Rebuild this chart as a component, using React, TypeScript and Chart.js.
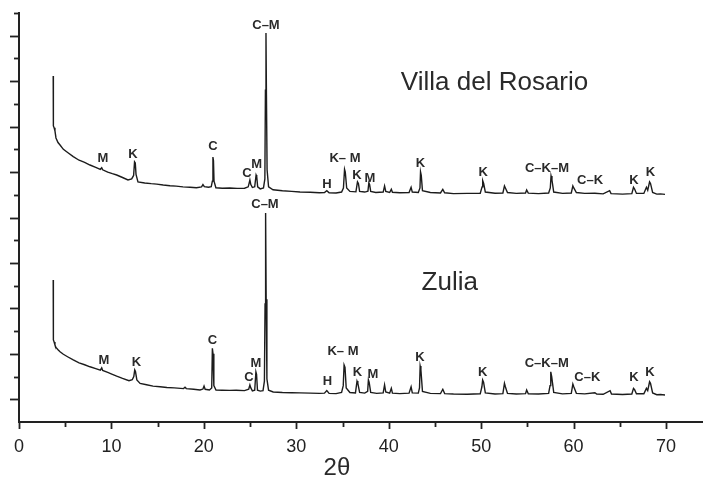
import React, { useEffect, useRef } from 'react';
import { Chart, registerables } from 'chart.js';

Chart.register(...registerables);

const FONT = '"Liberation Sans", Arial, Helvetica, sans-serif';

// 2θ (degrees), intensity (arbitrary units)
const villaPoints: [number, number][] = [
  [3.70, 1423], [3.72, 1203], [3.80, 1195], [3.89, 1181], [4.00, 1150], [4.22, 1130], [4.44, 1119],
  [4.80, 1100], [5.30, 1085], [5.87, 1068], [6.50, 1052], [7.10, 1043], [7.68, 1031], [8.30, 1021],
  [8.80, 1012], [8.95, 1019], [9.05, 1010], [9.60, 1000], [10.10, 993], [10.57, 987], [11.20, 976],
  [11.79, 965], [12.19, 970], [12.40, 985], [12.50, 1045], [12.58, 1040], [12.66, 990], [12.87, 957],
  [13.60, 952], [14.30, 949], [14.90, 947], [15.60, 943], [16.34, 940], [17.00, 938], [17.74, 935],
  [18.50, 933], [19.20, 931], [19.75, 935], [19.90, 945], [20.05, 936], [20.50, 933], [20.80, 936],
  [20.92, 960], [20.98, 1066], [21.04, 1050], [21.10, 960], [21.30, 931], [22.00, 929], [22.80, 930],
  [23.60, 928], [24.40, 929], [24.80, 935], [24.98, 965], [25.08, 945], [25.25, 932], [25.50, 935],
  [25.65, 987], [25.72, 980], [25.82, 935], [26.10, 926], [26.45, 930], [26.60, 970], [26.66, 1360],
  [26.72, 1612], [26.77, 1340], [26.84, 1010], [27.00, 935], [27.48, 922], [28.50, 918], [29.50, 915],
  [30.40, 912], [31.50, 911], [32.50, 909], [33.05, 910], [33.30, 918], [33.55, 909], [34.30, 908],
  [34.90, 912], [35.10, 930], [35.22, 1012], [35.30, 1000], [35.45, 930], [35.80, 915], [36.45, 913],
  [36.62, 957], [36.72, 950], [36.85, 915], [37.40, 912], [37.75, 916], [37.85, 953], [37.93, 945],
  [38.05, 915], [38.60, 910], [39.40, 912], [39.55, 939], [39.68, 915], [40.10, 910], [40.28, 924],
  [40.40, 911], [41.20, 909], [42.20, 910], [42.42, 933], [42.55, 912], [43.20, 910], [43.38, 930],
  [43.44, 1001], [43.52, 985], [43.65, 918], [44.50, 910], [45.60, 908], [45.85, 924], [46.05, 909],
  [47.00, 905], [48.50, 906], [49.90, 907], [50.10, 935], [50.17, 962], [50.27, 950], [50.45, 912],
  [51.50, 907], [52.35, 908], [52.52, 939], [52.62, 930], [52.85, 910], [53.80, 906], [54.80, 908],
  [54.92, 921], [55.10, 907], [56.20, 905], [57.30, 908], [57.48, 930], [57.56, 983], [57.66, 965],
  [57.85, 912], [58.80, 906], [59.75, 908], [59.92, 939], [60.02, 930], [60.30, 910], [61.20, 906],
  [62.30, 907], [63.20, 904], [63.90, 918], [64.05, 905], [65.30, 903], [66.30, 905], [66.48, 933],
  [66.60, 925], [66.80, 906], [67.60, 906], [67.88, 933], [68.02, 920], [68.22, 957], [68.32, 950],
  [68.55, 910], [69.00, 903], [69.40, 904], [69.89, 902],
];

const zuliaPoints: [number, number][] = [
  [3.70, 525], [3.72, 261], [3.80, 252], [3.89, 239], [4.00, 228], [4.22, 218], [4.44, 209],
  [4.80, 198], [5.30, 186], [5.87, 173], [6.50, 160], [7.10, 152], [7.68, 143], [8.30, 135],
  [8.80, 128], [8.95, 138], [9.05, 127], [9.60, 118], [10.10, 110], [10.57, 102], [11.20, 92],
  [11.90, 82], [12.25, 86], [12.42, 100], [12.52, 129], [12.60, 122], [12.75, 85], [13.10, 70],
  [13.80, 64], [14.50, 58], [15.26, 55], [16.00, 52], [16.80, 50], [17.80, 47], [17.96, 53],
  [18.10, 47], [18.90, 44], [19.58, 41], [19.90, 45], [20.02, 58], [20.14, 44], [20.60, 41],
  [20.85, 50], [20.92, 224], [20.99, 200], [21.08, 60], [21.31, 41], [22.00, 40], [22.80, 39],
  [23.50, 40], [24.40, 38], [24.85, 44], [24.98, 63], [25.08, 50], [25.25, 37], [25.50, 40],
  [25.63, 121], [25.70, 110], [25.80, 40], [26.10, 36], [26.40, 38], [26.55, 80], [26.62, 420],
  [26.68, 820], [26.74, 440], [26.82, 90], [27.00, 40], [27.50, 32], [28.50, 30], [29.50, 29],
  [30.40, 28], [31.50, 27], [32.50, 26], [33.05, 27], [33.30, 38], [33.55, 26], [34.30, 25],
  [34.90, 30], [35.08, 60], [35.17, 151], [35.27, 140], [35.40, 50], [35.80, 30], [36.40, 28],
  [36.57, 80], [36.66, 70], [36.85, 30], [37.40, 27], [37.72, 35], [37.80, 85], [37.88, 75],
  [38.05, 30], [38.70, 26], [39.40, 28], [39.55, 63], [39.68, 32], [40.10, 27], [40.28, 48],
  [40.40, 27], [41.20, 25], [42.20, 27], [42.42, 55], [42.55, 28], [43.20, 27], [43.33, 50],
  [43.40, 146], [43.48, 130], [43.65, 35], [44.50, 26], [45.60, 25], [45.85, 44], [46.05, 25],
  [47.00, 23], [48.50, 22], [49.90, 24], [50.08, 55], [50.16, 85], [50.26, 75], [50.45, 28],
  [51.50, 23], [52.35, 25], [52.52, 70], [52.62, 55], [52.85, 26], [53.80, 23], [54.80, 25],
  [54.92, 41], [55.10, 24], [56.20, 23], [57.30, 26], [57.45, 60], [57.53, 121], [57.63, 100],
  [57.85, 30], [58.80, 24], [59.75, 26], [59.92, 67], [60.02, 55], [60.30, 26], [61.20, 24],
  [62.30, 29], [62.50, 23], [63.20, 22], [63.95, 38], [64.10, 23], [65.30, 21], [66.30, 23],
  [66.48, 48], [66.60, 42], [66.80, 24], [67.60, 24], [67.88, 48], [68.02, 38], [68.22, 77],
  [68.32, 70], [68.55, 28], [69.00, 20], [69.40, 21], [69.89, 19],
];

// Peak labels: text, 2θ, intensity
const villaLabels: [string, number, number][] = [
  ['M', 9.09, 1062], ['K', 12.33, 1079], ['C', 20.99, 1115], ['C', 24.67, 996], ['M', 25.7, 1035],
  ['C–M', 26.72, 1647], ['H', 33.32, 947], ['K– M', 35.27, 1062], ['K', 36.57, 983], ['M', 37.97, 974],
  ['K', 43.44, 1040], ['K', 50.23, 1000], ['C–K–M', 57.12, 1018], ['C–K', 61.78, 965],
  ['K', 66.54, 961], ['K', 68.32, 1000],
];
const zuliaLabels: [string, number, number][] = [
  ['M', 9.2, 173], ['K', 12.71, 164], ['C', 20.93, 261], ['C', 24.88, 98], ['M', 25.64, 160],
  ['C–M', 26.61, 859], ['H', 33.38, 80], ['K– M', 35.05, 212], ['K', 36.62, 120], ['M', 38.3, 111],
  ['K', 43.38, 186], ['K', 50.17, 120], ['C–K–M', 57.09, 160], ['C–K', 61.48, 98],
  ['K', 66.54, 94], ['K', 68.27, 120],
];

const seriesNames = ['Villa del Rosario', 'Zulia'];
const seriesNamePos: [number, number][] = [[51.45, 1392], [46.6, 512]];

const xMajorTicks = [0, 10, 20, 30, 40, 50, 60, 70];
const xMinorTicks = [5, 15, 25, 35, 45, 55, 65];
const yTicks = [0, 100, 200, 300, 400, 500, 600, 700, 800, 900, 1000, 1100, 1200, 1300, 1400, 1500, 1600, 1700];
const xTitle = '2θ';
const xTitleAt = 34.4;

const decor = {
  id: 'decor',
  afterDraw(chart: any) {
    const { ctx, scales } = chart;
    const x = scales.x;
    const y = scales.y;
    ctx.save();
    ctx.strokeStyle = '#222';
    ctx.lineWidth = 1.8;
    const left = chart.chartArea.left;
    const bottom = chart.chartArea.bottom;
    for (const v of yTicks) {
      const py = Math.round(y.getPixelForValue(v)) + 0.5;
      const len = v % 200 === 0 ? 9 : 5;
      ctx.beginPath();
      ctx.moveTo(left - len, py);
      ctx.lineTo(left, py);
      ctx.stroke();
    }
    for (const v of xMajorTicks) {
      const px = Math.round(x.getPixelForValue(v)) + 0.5;
      ctx.beginPath();
      ctx.moveTo(px, bottom);
      ctx.lineTo(px, bottom + 7);
      ctx.stroke();
    }
    for (const v of xMinorTicks) {
      const px = Math.round(x.getPixelForValue(v)) + 0.5;
      ctx.beginPath();
      ctx.moveTo(px, bottom);
      ctx.lineTo(px, bottom + 5);
      ctx.stroke();
    }
    ctx.fillStyle = '#2a2a2a';
    ctx.textAlign = 'center';
    ctx.textBaseline = 'middle';
    ctx.font = `bold 13px ${FONT}`;
    for (const [t, vx, vy] of [...villaLabels, ...zuliaLabels]) {
      ctx.fillText(t, x.getPixelForValue(vx), y.getPixelForValue(vy));
    }
    ctx.font = `26px ${FONT}`;
    seriesNames.forEach((name, i) => {
      const [vx, vy] = seriesNamePos[i];
      ctx.fillText(name, x.getPixelForValue(vx), y.getPixelForValue(vy));
    });
    ctx.font = `24px ${FONT}`;
    ctx.fillText(xTitle, x.getPixelForValue(xTitleAt), x.top + 46);
    ctx.restore();
  },
};

export default function App() {
  const ref = useRef<HTMLCanvasElement | null>(null);
  useEffect(() => {
    if (!ref.current) return;
    const chart = new Chart(ref.current, {
      type: 'line',
      data: {
        datasets: [
          {
            label: seriesNames[0],
            data: villaPoints.map(([x, y]) => ({ x, y })),
            borderColor: '#1c1c1c',
            borderWidth: 1.4,
            pointRadius: 0,
            tension: 0,
            fill: false,
          },
          {
            label: seriesNames[1],
            data: zuliaPoints.map(([x, y]) => ({ x, y })),
            borderColor: '#1c1c1c',
            borderWidth: 1.4,
            pointRadius: 0,
            tension: 0,
            fill: false,
          },
        ],
      },
      options: {
        animation: false,
        responsive: false,
        devicePixelRatio: 1,
        layout: { padding: { top: 13, left: 0, right: 0, bottom: 0 } },
        plugins: { legend: { display: false }, tooltip: { enabled: false } },
        scales: {
          x: {
            type: 'linear',
            min: 0,
            max: 74,
            afterFit: (s: any) => { s.height = 63; },
            grid: { display: false },
            border: { display: true, color: '#222', width: 2 },
            ticks: {
              stepSize: 10,
              includeBounds: false,
              autoSkip: false,
              maxRotation: 0,
              padding: 6,
              color: '#222',
              font: { family: FONT, size: 18 },
              callback: (v: any) => (Number(v) <= 70 ? String(v) : ''),
            },
          },
          y: {
            type: 'linear',
            min: -100,
            max: 1700,
            afterFit: (s: any) => { s.width = 19; },
            grid: { display: false },
            border: { display: true, color: '#222', width: 2 },
            ticks: { display: false },
          },
        },
      } as any,
      plugins: [decor],
    });
    return () => chart.destroy();
  }, []);
  return (
    <div style={{ position: 'fixed', left: 0, top: 0, width: 703, height: 485, background: '#fff' }}>
      <canvas ref={ref} width={703} height={485} />
    </div>
  );
}
